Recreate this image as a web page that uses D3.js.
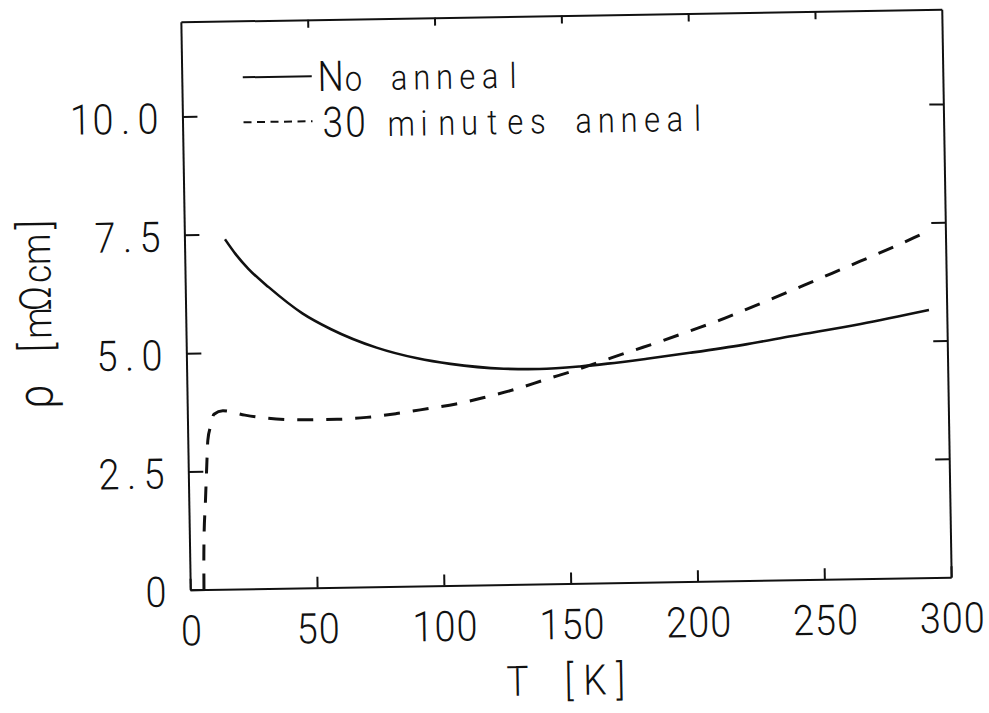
<!DOCTYPE html>
<html>
<head>
<meta charset="utf-8">
<script src="https://cdn.jsdelivr.net/npm/d3@7"></script>
<style>
  html, body { margin: 0; padding: 0; background: #fff; }
  svg { display: block; }
  text { white-space: pre; }
</style>
</head>
<body>
<svg id="chart" width="989" height="713"></svg>
<script>
// Resistivity vs temperature, two annealing states
const tempNoAnneal = [16, 20, 25, 33, 46, 57, 75, 91, 104, 125, 139, 155, 166, 181.5, 198.5, 219.5, 239, 266, 293];
const rhoNoAnneal  = [7.39, 7.08, 6.76, 6.36, 5.80, 5.46, 5.05, 4.81, 4.68, 4.56, 4.54, 4.58, 4.63, 4.72, 4.83, 4.98, 5.15, 5.38, 5.65];

const tempAnneal30 = [5.4, 5.6, 6.6, 7.3, 7.9, 9.1, 10.5, 14, 22.7, 31, 47, 59, 70.6, 82.5, 95.7, 106, 118, 130, 141, 153, 164, 175, 187, 199, 210, 221, 232, 244, 255, 266, 277, 290, 293];
const rhoAnneal30  = [0, 0.77, 1.9, 2.6, 3.15, 3.45, 3.7, 3.77, 3.67, 3.6, 3.55, 3.55, 3.58, 3.65, 3.75, 3.83, 3.97, 4.13, 4.31, 4.50, 4.69, 4.88, 5.08, 5.30, 5.50, 5.73, 5.96, 6.22, 6.46, 6.70, 6.94, 7.24, 7.31];

const seriesLabels = ["No anneal", "30 minutes anneal"];
const xTickValues = [0, 50, 100, 150, 200, 250, 300];
const xTickLabels = ["0", "50", "100", "150", "200", "250", "300"];
const yTickValues = [0, 2.5, 5, 7.5, 10];
const yTickLabels = ["0", "2.5", "5.0", "7.5", "10.0"];
const xTitle = "T [K]";
const yTitle = "ρ [mΩcm]";

const INK = "#111";
const FONT = "Roboto, 'DejaVu Sans', sans-serif";

const plot = { left: 185.5, right: 946.5, top: 15.5, bottom: 583.5 };
const x = d3.scaleLinear().domain([0, 300]).range([plot.left, plot.right]);
const y = d3.scaleLinear().domain([0, 12]).range([plot.bottom, plot.top]);

const svg = d3.select("#chart");
// whole figure sits slightly tilted on the page
const root = svg.append("g")
  .attr("transform", "rotate(-0.95,566,299.5)")
  .style("color", INK);

// Lays out a string one character per fixed-width cell (plotter lettering).
function placeChars(textSel, str, cell, sx, align, capSize, lowerSize, greekSize) {
  const chars = Array.from(str);
  const n = chars.length;
  textSel.text(null)
    .attr("text-anchor", "middle")
    .style("font-family", FONT)
    .style("font-weight", 300)
    .style("fill", INK);
  chars.forEach((c, i) => {
    let off;
    if (align === "middle") off = (i - (n - 1) / 2) * cell;
    else if (align === "end") off = (i - (n - 1)) * cell;
    else off = i * cell;
    let size = capSize;
    if (c === "ρ") size = greekSize || lowerSize;
    else if (/[a-z]/.test(c)) size = lowerSize;
    textSel.append("tspan")
      .attr("x", off / sx)
      .style("font-size", size + "px")
      .text(c);
  });
}

// axes
const axisBottom = d3.axisBottom(x).tickValues(xTickValues)
  .tickSizeInner(-11).tickSizeOuter(0)
  .tickFormat((d, i) => xTickLabels[i]);
const gx = root.append("g").attr("transform", `translate(0,${plot.bottom})`).call(axisBottom);

const axisLeft = d3.axisLeft(y).tickValues(yTickValues)
  .tickSizeInner(-15).tickSizeOuter(0)
  .tickFormat((d, i) => yTickLabels[i]);
const gy = root.append("g").attr("transform", `translate(${plot.left},0)`).call(axisLeft);

const axisTop = d3.axisTop(x).tickValues([50, 100, 150, 200, 250])
  .tickSizeInner(-8).tickSizeOuter(0).tickFormat("");
const gt = root.append("g").attr("transform", `translate(0,${plot.top})`).call(axisTop);

const axisRight = d3.axisRight(y).tickValues([2.5, 5, 7.5, 10])
  .tickSizeInner(-14).tickSizeOuter(0).tickFormat("");
const gr = root.append("g").attr("transform", `translate(${plot.right},0)`).call(axisRight);

[gx, gy, gt, gr].forEach(g => {
  g.select(".domain").attr("stroke", INK).attr("stroke-width", 2);
  g.selectAll(".tick line").attr("stroke", INK).attr("stroke-width", 2);
});

const sxTick = 0.9;
gx.selectAll(".tick text").each(function (d, i) {
  const t = d3.select(this);
  t.attr("x", null).attr("y", null).attr("dy", null)
    .attr("transform", `translate(0,55.5) scale(${sxTick},1)`);
  placeChars(t, xTickLabels[i], 22, sxTick, "middle", 42, 32);
});
gy.selectAll(".tick text").each(function (d, i) {
  const t = d3.select(this);
  t.attr("x", null).attr("y", null).attr("dy", null)
    .attr("transform", `translate(-34.4,16) scale(${sxTick},1)`);
  placeChars(t, yTickLabels[i], 22.5, sxTick, "end", 42, 32);
});

// axis titles
const sxTitle = 0.88;
placeChars(
  root.append("text").attr("transform", `translate(562.7,695) scale(${sxTitle},1)`),
  xTitle, 25.8, sxTitle, "middle", 42, 34);
placeChars(
  root.append("text").attr("transform", `translate(51,302) rotate(-90) scale(${sxTitle},1)`),
  yTitle, 24.6, sxTitle, "middle", 44, 40, 50);

// curves
const line = d3.line().x(d => x(d[0])).y(d => y(d[1])).curve(d3.curveMonotoneX);

root.append("path")
  .datum(d3.zip(tempNoAnneal, rhoNoAnneal))
  .attr("d", line)
  .attr("fill", "none").attr("stroke", INK).attr("stroke-width", 2.6);

root.append("path")
  .datum(d3.zip(tempAnneal30, rhoAnneal30))
  .attr("d", line)
  .attr("fill", "none").attr("stroke", INK).attr("stroke-width", 3)
  .attr("stroke-dasharray", "16,13");

// legend
const legendRows = [
  { label: seriesLabels[0], y: 72, base: 87, firstX: 334.3, dash: null },
  { label: seriesLabels[1], y: 117, base: 133, firstX: 335.7, dash: "8,5.5" }
];
const sxLegend = 0.88;
legendRows.forEach(r => {
  const ln = root.append("line")
    .attr("x1", 246.5).attr("x2", 315.5).attr("y1", r.y).attr("y2", r.y)
    .attr("stroke", INK).attr("stroke-width", 2);
  if (r.dash) ln.attr("stroke-dasharray", r.dash);
  placeChars(
    root.append("text").attr("transform", `translate(${r.firstX},${r.base}) scale(${sxLegend},1)`),
    r.label, 22.8, sxLegend, "start", 42, 35);
});
</script>
</body>
</html>
